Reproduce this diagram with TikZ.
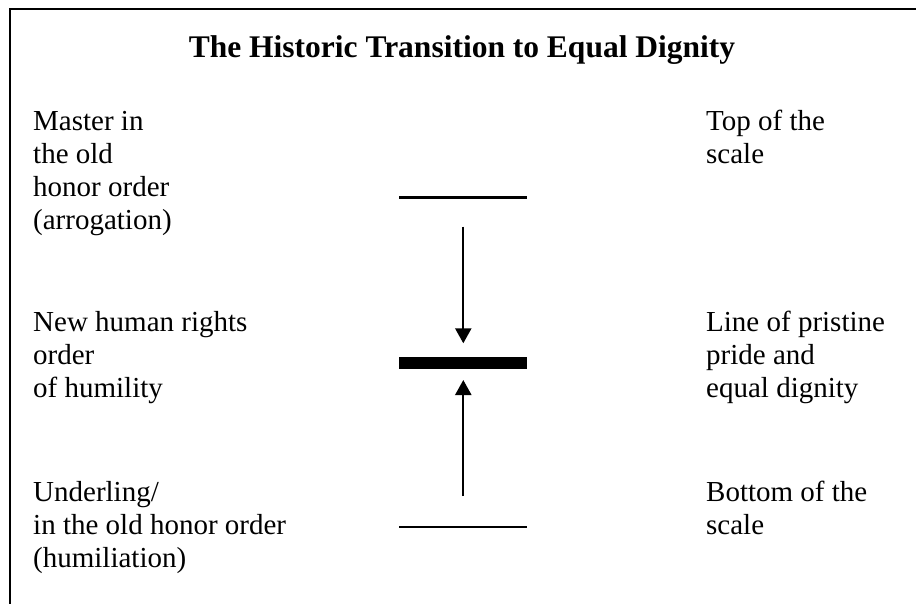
\documentclass[tikz,border=0pt]{standalone}
\usepackage{fontspec}
\setmainfont{Liberation Serif}
\usetikzlibrary{arrows.meta}
\begin{document}
\begin{tikzpicture}[x=1pt,y=-1pt,
  label/.style={anchor=base west,inner sep=0pt,font=\fontsize{29}{33}\selectfont},
  heading/.style={anchor=base,inner sep=0pt,font=\fontsize{31.5}{36}\selectfont\bfseries},
  level/.style={line width=2.2pt},
  baseline level/.style={line width=12pt},
  move/.style={line width=2.3pt,-{Triangle[width=16pt,length=15pt]}}]
  \useasboundingbox (0,0) rectangle (916,603);
  \clip (0,0) rectangle (916,603);
  % frame, open towards the right and the bottom
  \draw[line width=2pt] (10,9) rectangle (940,630);

  % title
  \node[heading] (title) at (462,57) {The Historic Transition to Equal Dignity};

  % left column
  \node[label] (master) at (33,130)
    {\begin{tabular}[t]{@{}l@{}}Master in\\the old\\honor order\\(arrogation)\end{tabular}};
  \node[label] (newrights) at (33,331.5)
    {\begin{tabular}[t]{@{}l@{}}New human rights\\order\\of humility\end{tabular}};
  \node[label] (underling) at (33,501.5)
    {\begin{tabular}[t]{@{}l@{}}Underling/\\in the old honor order\\(humiliation)\end{tabular}};

  % right column
  \node[label] (top) at (706,130)
    {\begin{tabular}[t]{@{}l@{}}Top of the\\scale\end{tabular}};
  \node[label] (pristine) at (706,331.5)
    {\begin{tabular}[t]{@{}l@{}}Line of pristine\\pride and\\equal dignity\end{tabular}};
  \node[label] (bottom) at (706,501.5)
    {\begin{tabular}[t]{@{}l@{}}Bottom of the\\scale\end{tabular}};

  % scale levels
  \coordinate (topL) at (399,197.5);
  \coordinate (topR) at (527,197.5);
  \coordinate (midL) at (399,362.5);
  \coordinate (midR) at (527,362.5);
  \coordinate (botL) at (399,527.3);
  \coordinate (botR) at (527,527.3);
  \draw[level] (topL) -- (topR);
  \draw[baseline level] (midL) -- (midR);
  \draw[level] (botL) -- (botR);

  % movements towards equal dignity
  \coordinate (downS) at (463.3,226.7);
  \coordinate (downE) at (463.3,343.3);
  \coordinate (upS) at (463.3,496);
  \coordinate (upE) at (463.3,380);
  \draw[move] (downS) -- (downE);
  \draw[move] (upS) -- (upE);
\end{tikzpicture}
\end{document}
